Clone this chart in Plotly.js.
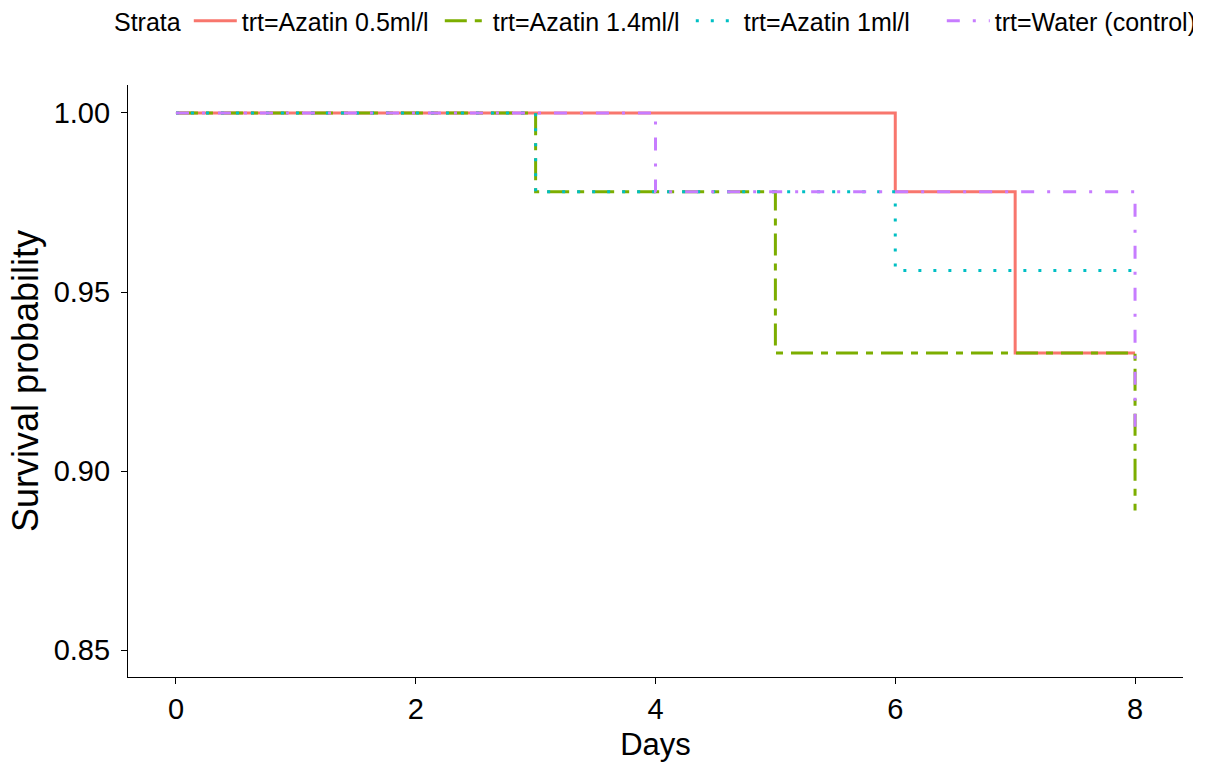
<!DOCTYPE html>
<html><head><meta charset="utf-8">
<script src="https://cdn.plot.ly/plotly-3.0.1.min.js"></script>
<style>body{margin:0;background:#fff}#c{width:1206px;height:764px}</style>
</head><body><div id="c"></div>
<script>
const names = ["trt=Azatin 0.5ml/l","trt=Azatin 1.4ml/l","trt=Azatin 1ml/l","trt=Water (control)"];
const colors = ["#F8766D","#7CAE00","#00BFC4","#C77CFF"];
const dashes = ["solid","22px,8px,7px,8px","3px,12px","13px,13px,3px,13px"];
const xAzatin05 = [0,6,7,8];
const yAzatin05 = [1,0.978,0.933,0.933];
const xAzatin14 = [0,3,5,8,8];
const yAzatin14 = [1,0.978,0.933,0.933,0.889];
const xAzatin1 = [0,3,6,8];
const yAzatin1 = [1,0.978,0.956,0.956];
const xWater = [0,4,8,8];
const yWater = [1,0.978,0.978,0.911];
const xTicks = [0,2,4,6,8];
const yTicks = [0.85,0.9,0.95,1.0];
const yTickText = ['0.85','0.90','0.95','1.00'];
const xs=[xAzatin05,xAzatin14,xAzatin1,xWater], ys=[yAzatin05,yAzatin14,yAzatin1,yWater];
const traces = names.map((n,i)=>({x:xs[i],y:ys[i],name:n,type:'scatter',mode:'lines',
  line:{shape:'hv',color:colors[i],dash:dashes[i],width:3}}));
const layout = {
  width:1206,height:764,paper_bgcolor:'#fff',plot_bgcolor:'#fff',
  margin:{l:128,r:23,t:85,b:87},
  font:{family:'Liberation Sans, Arial, sans-serif',color:'#000'},
  showlegend:true,
  legend:{orientation:'h',xref:'container',yref:'container',x:112/1206,xanchor:'left',y:1-21/764,yanchor:'middle',
    title:{text:'Strata',font:{size:25}},font:{size:25},itemwidth:43,tracegroupgap:0,
    entrywidth:193,entrywidthmode:'pixels'},
  xaxis:{range:[-0.4,8.4],tickvals:xTicks,ticktext:xTicks.map(String),showgrid:false,zeroline:false,
    showline:true,linecolor:'#000',linewidth:1.2,ticks:'outside',ticklen:6,tickcolor:'#000',
    tickfont:{size:29,color:'#000'},title:{text:'Days',font:{size:31},standoff:9}},
  yaxis:{range:[0.8425,1.0078],tickvals:yTicks,ticktext:yTickText,showgrid:false,zeroline:false,
    showline:true,linecolor:'#000',linewidth:1.2,ticks:'outside',ticklen:6,tickcolor:'#000',ticklabelstandoff:5,
    tickfont:{size:29,color:'#000'},title:{text:'Survival probability',font:{size:36},standoff:4}}
};
Plotly.newPlot('c',traces,layout,{displayModeBar:false});
</script></body></html>
